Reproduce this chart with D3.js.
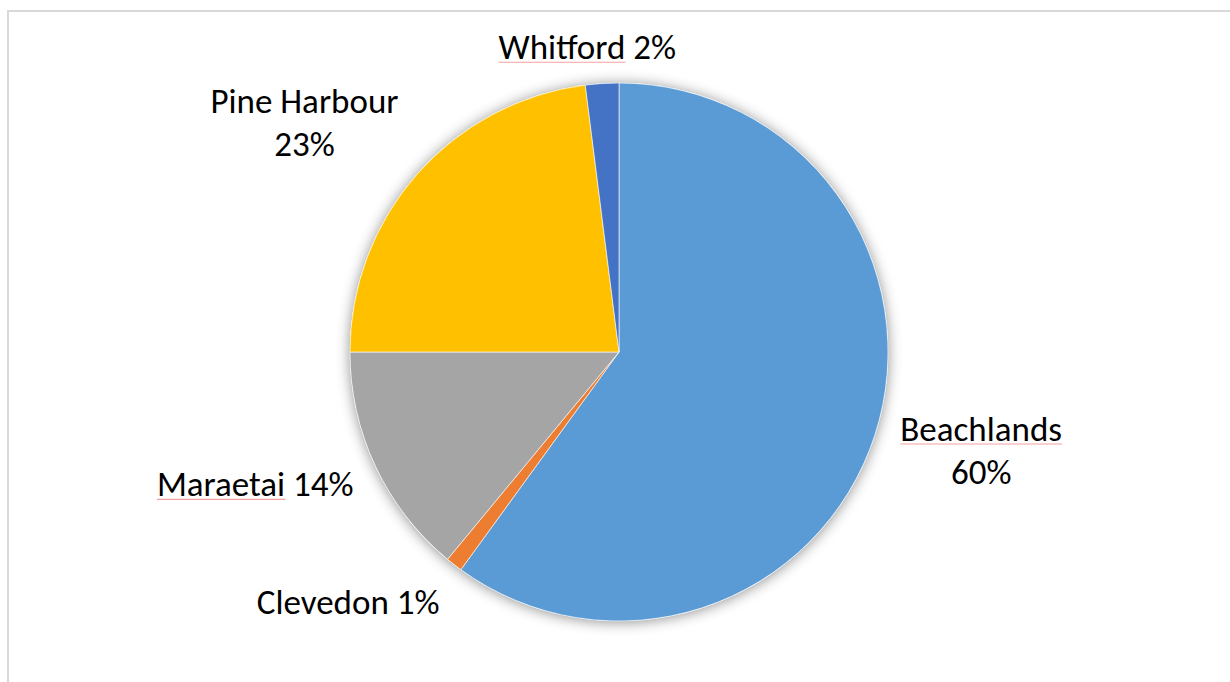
<!DOCTYPE html>
<html>
<head>
<meta charset="utf-8">
<script src="https://cdn.jsdelivr.net/npm/d3@7"></script>
<style>
  html, body { margin: 0; padding: 0; background: #fff; }
  svg { display: block; }
</style>
</head>
<body>
<svg id="chart" width="1230" height="682"></svg>
<script>
// Share of respondents by area
const areas = ["Beachlands", "Clevedon", "Maraetai", "Pine Harbour", "Whitford"];
const shares = [60, 1, 14, 23, 2];
const colours = ["#5B9BD5", "#ED7D31", "#A5A5A5", "#FFC000", "#4472C4"];

const svg = d3.select("#chart");
const W = 1230, H = 682;

// chart frame
svg.append("rect")
  .attr("x", 8).attr("y", 11)
  .attr("width", W + 10).attr("height", H + 10)
  .attr("fill", "#fff")
  .attr("stroke", "#d9d9d9").attr("stroke-width", 2);

const defs = svg.append("defs");
const f = defs.append("filter").attr("id", "glow")
  .attr("x", "-20%").attr("y", "-20%").attr("width", "140%").attr("height", "140%");
f.append("feDropShadow")
  .attr("dx", 0).attr("dy", 1).attr("stdDeviation", 7)
  .attr("flood-color", "#000").attr("flood-opacity", 0.45);

const cx = 619, cy = 352, R = 269;
const data = areas.map((a, i) => ({ name: a, value: shares[i], colour: colours[i] }));

const pie = d3.pie().value(d => d.value).sort(null).startAngle(0).endAngle(2 * Math.PI);
const arcs = pie(data);
const arc = d3.arc().innerRadius(0).outerRadius(R);

const g = svg.append("g").attr("transform", `translate(${cx},${cy})`);

g.append("circle").attr("r", R).attr("fill", "#fff").attr("filter", "url(#glow)");

g.selectAll("path.slice")
  .data(arcs)
  .enter().append("path")
  .attr("class", "slice")
  .attr("d", arc)
  .attr("fill", d => d.data.colour)
  .attr("stroke", "#fff")
  .attr("stroke-width", 0.6);

// data labels placed outside each slice
const labelArc = d3.arc().innerRadius(R * 1.4).outerRadius(R * 1.4);
const labelLayout = {
  "Beachlands":   { lines: d => [d.name, d.value + "%"], dx: 4,   dy: -15, underline: true },
  "Clevedon":     { lines: d => [d.name + " " + d.value + "%"], dx: -40, dy: -45, underline: false },
  "Maraetai":     { lines: d => [d.name + " " + d.value + "%"], dx: -23, dy: -25, underline: true },
  "Pine Harbour": { lines: d => [d.name, d.value + "%"], dx: -32, dy: 22, underline: false },
  "Whitford":     { lines: d => [d.name + " " + d.value + "%"], dx: -8, dy: 74, underline: true }
};

const fontFamily = "Carlito, Lato, 'Open Sans', sans-serif";
const fontSize = 35;
const lineH = 43;

arcs.forEach(d => {
  const L = labelLayout[d.data.name];
  const [px, py] = labelArc.centroid(d);
  const lines = L.lines(d.data);
  const x = cx + px + L.dx;
  const yMid = cy + py + L.dy;
  const y0 = yMid - (lines.length - 1) * lineH / 2 + 26 * 0.35;
  const t = svg.append("text")
    .attr("text-anchor", "middle")
    .attr("font-family", fontFamily)
    .attr("font-size", fontSize)
    .attr("fill", "#000");
  lines.forEach((ln, i) => {
    t.append("tspan").attr("x", x).attr("y", y0 + i * lineH).text(ln);
  });
  if (L.underline) {
    // spell-check mark under the place name
    const tmp = svg.append("text")
      .attr("font-family", fontFamily)
      .attr("font-size", fontSize).text(lines[0]);
    const full = tmp.node().getComputedTextLength();
    tmp.text(d.data.name);
    const nameW = tmp.node().getComputedTextLength();
    tmp.remove();
    const left = x - full / 2;
    svg.append("line")
      .attr("x1", left).attr("x2", left + nameW)
      .attr("y1", y0 + 3).attr("y2", y0 + 3)
      .attr("stroke", "#f4a0a0").attr("stroke-width", 1.2);
  }
});
</script>
</body>
</html>
